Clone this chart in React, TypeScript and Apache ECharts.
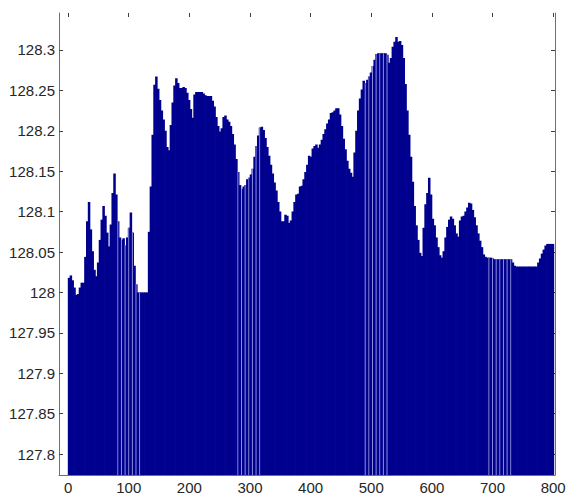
import { useEffect, useRef } from 'react';
import * as echarts from 'echarts';

// x position of the first bar and the spacing between sampled bars (data units)
const X_START = 1;
const X_STEP = 3;

// bar heights, left to right
const values = [
  128.018, 128.021, 128.015, 128.006, 127.997, 127.998, 128.006, 128.012, 128.012, 128.044,
  128.088, 128.112, 128.078, 128.051, 128.028, 128.020, 128.037, 128.065, 128.090, 128.107,
  128.095, 128.074, 128.057, 128.084, 128.123, 128.147, 128.121, 128.088, 128.068, 128.065,
  128.067, 128.058, 128.068, 128.080, 128.099, 128.074, 128.033, 128.010, 128.000, 128.000,
  128.000, 128.000, 128.000, 128.000, 128.075, 128.131, 128.195, 128.257, 128.267, 128.252,
  128.238, 128.225, 128.214, 128.200, 128.180, 128.176, 128.207, 128.235, 128.256, 128.265,
  128.259, 128.253, 128.253, 128.254, 128.253, 128.247, 128.238, 128.227, 128.216, 128.245,
  128.248, 128.248, 128.248, 128.248, 128.246, 128.244, 128.243, 128.243, 128.243, 128.237,
  128.230, 128.217, 128.206, 128.199, 128.203, 128.217, 128.219, 128.214, 128.211, 128.206,
  128.196, 128.183, 128.165, 128.149, 128.133, 128.128, 128.131, 128.133, 128.140, 128.142,
  128.146, 128.153, 128.168, 128.181, 128.194, 128.204, 128.205, 128.201, 128.191, 128.180,
  128.169, 128.158, 128.147, 128.136, 128.126, 128.112, 128.100, 128.088, 128.088, 128.096,
  128.095, 128.086, 128.089, 128.100, 128.112, 128.121, 128.122, 128.131, 128.132, 128.140,
  128.149, 128.158, 128.169, 128.168, 128.178, 128.181, 128.183, 128.179, 128.183, 128.189,
  128.196, 128.202, 128.209, 128.214, 128.222, 128.223, 128.225, 128.228, 128.228, 128.220,
  128.206, 128.190, 128.177, 128.163, 128.153, 128.148, 128.143, 128.173, 128.200, 128.225,
  128.240, 128.251, 128.262, 128.259, 128.263, 128.267, 128.272, 128.280, 128.288, 128.295,
  128.296, 128.296, 128.296, 128.296, 128.296, 128.294, 128.284, 128.290, 128.304, 128.310,
  128.316, 128.310, 128.311, 128.306, 128.290, 128.258, 128.225, 128.195, 128.168, 128.137,
  128.107, 128.083, 128.065, 128.049, 128.045, 128.080, 128.109, 128.123, 128.142, 128.121,
  128.091, 128.083, 128.068, 128.056, 128.046, 128.043, 128.051, 128.068, 128.081, 128.090,
  128.094, 128.091, 128.083, 128.073, 128.069, 128.089, 128.094, 128.095, 128.100, 128.105,
  128.111, 128.110, 128.102, 128.093, 128.083, 128.073, 128.064, 128.056, 128.047, 128.044,
  128.043, 128.043, 128.043, 128.042, 128.041, 128.041, 128.041, 128.041, 128.041, 128.041,
  128.041, 128.041, 128.041, 128.041, 128.037, 128.033, 128.032, 128.032, 128.032, 128.032,
  128.032, 128.032, 128.032, 128.032, 128.032, 128.032, 128.032, 128.032, 128.037, 128.042,
  128.048, 128.053, 128.058, 128.060, 128.060, 128.060, 128.060,
];

const xTicks = [0, 100, 200, 300, 400, 500, 600, 700, 800];
const yTicks = [127.8, 127.85, 127.9, 127.95, 128, 128.05, 128.1, 128.15, 128.2, 128.25, 128.3];

// styling
const BAR_COLOR = '#00008f';
const STRIPE_COLOR = '#8e8edb';
const STRIPE_WIDTH = 1.0;
const BAR_OVERLAP = 0.7;
const STRIPE_RANGES: [number, number][] = [
  [79, 118],
  [280, 320],
  [485, 527],
  [690, 733],
];
const X_MIN = -15;
const X_MAX = 803;
const Y_MIN = 127.7741;
const Y_MAX = 128.3457;
const FONT = 'Liberation Sans, Arial, sans-serif';
const AXIS_COLOR = '#707070';
const TEXT_COLOR = '#262626';

export default function App() {
  const ref = useRef<HTMLDivElement>(null);

  useEffect(() => {
    if (!ref.current) return;
    const chart = echarts.init(ref.current, null, { renderer: 'svg' });

    const data = values.map((v, i) => [X_START + i * X_STEP, v]);

    const renderItem = (params: any, api: any) => {
      const x = api.value(0);
      const y = api.value(1);
      const top = api.coord([x, y]);
      const base = api.coord([x, Y_MIN]);
      const w = api.size([X_STEP, 0])[0];
      const left = top[0] - w / 2;
      const h = base[1] - top[1];
      const bar = {
        type: 'rect',
        shape: { x: left, y: top[1], width: w + BAR_OVERLAP, height: h },
        style: { fill: BAR_COLOR },
      };
      const striped =
        params.dataIndex % 2 === 1 && STRIPE_RANGES.some(([a, b]) => x >= a && x <= b);
      if (!striped) return bar;
      return {
        type: 'group',
        children: [
          bar,
          {
            type: 'rect',
            shape: { x: left + (w - STRIPE_WIDTH) / 2, y: top[1], width: STRIPE_WIDTH, height: h },
            style: { fill: STRIPE_COLOR },
          },
        ],
      };
    };

    const tickStyle = { show: true, inside: true, length: 4, lineStyle: { color: '#404040', width: 1 } };

    chart.setOption({
      animation: false,
      backgroundColor: '#ffffff',
      grid: { left: 59, right: 14, top: 13, bottom: 19, containLabel: false },
      xAxis: [
        {
          type: 'value',
          position: 'bottom',
          min: X_MIN,
          max: X_MAX,
          axisLine: { show: true, onZero: false, lineStyle: { color: AXIS_COLOR, width: 1 } },
          axisTick: { ...tickStyle, customValues: xTicks },
          axisLabel: {
            customValues: xTicks,
            margin: 5,
            fontFamily: FONT,
            fontSize: 15,
            color: TEXT_COLOR,
            formatter: (v: number) => String(v),
          },
          splitLine: { show: false },
        },
        {
          type: 'value',
          position: 'top',
          min: X_MIN,
          max: X_MAX,
          axisLine: { show: false, onZero: false },
          axisTick: { ...tickStyle, customValues: xTicks },
          axisLabel: { show: false },
          splitLine: { show: false },
        },
      ],
      yAxis: [
        {
          type: 'value',
          position: 'left',
          min: Y_MIN,
          max: Y_MAX,
          axisLine: { show: true, onZero: false, lineStyle: { color: AXIS_COLOR, width: 1 } },
          axisTick: { ...tickStyle, customValues: yTicks },
          axisLabel: {
            customValues: yTicks,
            margin: 4,
            fontFamily: FONT,
            fontSize: 15,
            color: TEXT_COLOR,
            formatter: (v: number) => String(Number(v.toFixed(2))),
          },
          splitLine: { show: false },
        },
        {
          type: 'value',
          position: 'right',
          min: Y_MIN,
          max: Y_MAX,
          axisLine: { show: true, onZero: false, lineStyle: { color: AXIS_COLOR, width: 1 } },
          axisTick: { ...tickStyle, customValues: yTicks },
          axisLabel: { show: false },
          splitLine: { show: false },
        },
      ],
      series: [
        {
          type: 'custom',
          xAxisIndex: 0,
          yAxisIndex: 0,
          data,
          encode: { x: 0, y: 1 },
          renderItem,
          clip: true,
          emphasis: { disabled: true },
        },
      ],
    });

    return () => chart.dispose();
  }, []);

  return (
    <div
      ref={ref}
      style={{ position: 'absolute', left: 0, top: 0, width: 569, height: 495 }}
    />
  );
}
